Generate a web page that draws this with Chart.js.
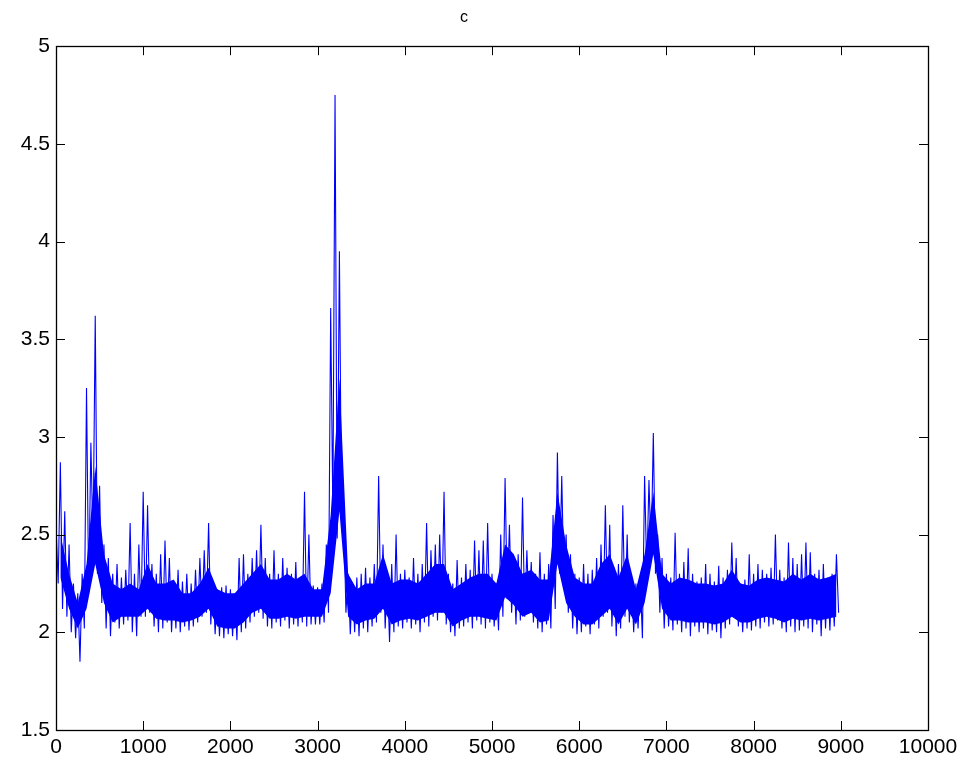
<!DOCTYPE html>
<html>
<head>
<meta charset="utf-8">
<script src="https://cdn.jsdelivr.net/npm/chart.js@4.4.1/dist/chart.umd.min.js"></script>
<style>
  html, body { margin: 0; padding: 0; background: #ffffff; }
  #c { display: block; }
</style>
</head>
<body>
<canvas id="c" width="967" height="764"></canvas>
<script>
// ---- data ----
const chartTitle = "c";
const binWidth = 50;     // samples per spike bin
// upper extreme of the signal in each 50-sample bin
const binHigh = [
  2.55, 2.87, 2.62, 2.45, 2.25, 2.20, 2.30, 3.25, 2.97, 3.62,
  2.75, 2.45, 2.38, 2.30, 2.35, 2.28, 2.32, 2.56, 2.30, 2.45,
  2.72, 2.65, 2.35, 2.30, 2.40, 2.47, 2.38, 2.25, 2.32, 2.26,
  2.30, 2.25, 2.32, 2.38, 2.42, 2.56, 2.25, 2.22, 2.23, 2.24,
  2.22, 2.20, 2.38, 2.40, 2.30, 2.38, 2.42, 2.55, 2.38, 2.30,
  2.42, 2.30, 2.38, 2.33, 2.30, 2.36, 2.28, 2.72, 2.50, 2.24,
  2.23, 2.25, 2.45, 3.66, 4.75, 3.95, 2.60, 2.30, 2.25, 2.28,
  2.30, 2.33, 2.28, 2.35, 2.80, 2.45, 2.30, 2.35, 2.50, 2.30,
  2.32, 2.28, 2.38, 2.30, 2.35, 2.56, 2.42, 2.45, 2.50, 2.72,
  2.30, 2.25, 2.37, 2.28, 2.35, 2.32, 2.47, 2.42, 2.47, 2.56,
  2.30, 2.25, 2.50, 2.79, 2.55, 2.35, 2.40, 2.69, 2.42, 2.36,
  2.30, 2.41, 2.30, 2.35, 2.60, 2.92, 2.80, 2.50, 2.40, 2.30,
  2.28, 2.35, 2.30, 2.32, 2.38, 2.45, 2.65, 2.55, 2.33, 2.35,
  2.65, 2.50, 2.27, 2.25, 2.28, 2.80, 2.78, 3.02, 2.50, 2.38,
  2.30, 2.28, 2.51, 2.30, 2.36, 2.43, 2.30, 2.26, 2.28, 2.35,
  2.30, 2.26, 2.34, 2.28, 2.32, 2.46, 2.38, 2.25, 2.27, 2.40,
  2.30, 2.35, 2.32, 2.30, 2.33, 2.50, 2.32, 2.28, 2.46, 2.38,
  2.35, 2.40, 2.46, 2.41, 2.30, 2.32, 2.35, 2.28, 2.30, 2.40
];
// lower extreme of the signal in each 50-sample bin
const binLow = [
  2.25, 2.12, 2.08, 2.00, 1.97, 1.85, 2.02, 2.20, 2.45, 2.30,
  2.15, 2.02, 1.98, 2.05, 2.02, 2.04, 2.06, 2.00, 1.98, 2.08,
  2.08, 2.10, 2.03, 2.00, 2.02, 2.05, 2.00, 2.02, 2.00, 2.03,
  2.01, 2.03, 2.05, 2.08, 2.10, 2.04, 1.99, 1.98, 1.97, 1.99,
  1.98, 1.96, 2.00, 2.02, 2.05, 2.08, 2.10, 2.07, 2.03, 2.02,
  2.05, 2.03, 2.06, 2.02, 2.04, 2.03, 2.05, 2.03, 2.04, 2.04,
  2.04, 2.05, 2.10, 2.60, 2.48, 2.55, 2.10, 1.99, 2.00, 1.98,
  2.02, 2.00, 2.03, 2.05, 2.10, 2.02, 1.95, 2.00, 2.03, 2.02,
  2.05, 2.02, 2.04, 2.00, 2.05, 2.03, 2.08, 2.06, 2.10, 2.04,
  2.00, 1.98, 2.02, 2.03, 2.05, 2.02, 2.06, 2.04, 2.02, 2.05,
  2.03, 2.01, 2.08, 2.17, 2.10, 2.04, 2.06, 2.08, 2.10, 2.05,
  2.02, 2.00, 2.04, 2.02, 2.12, 2.30, 2.25, 2.10, 2.02, 1.99,
  2.00, 2.03, 1.99, 2.04, 2.02, 2.08, 2.10, 2.03, 1.98, 2.02,
  2.08, 2.05, 2.00, 2.02, 1.97, 2.30, 2.40, 2.30, 2.10, 2.02,
  2.03, 2.01, 2.04, 2.00, 2.02, 1.98, 2.03, 2.00, 2.02, 1.99,
  2.01, 2.00, 1.97, 2.02, 2.04, 2.08, 2.03, 2.00, 2.02, 2.01,
  2.03, 2.02, 2.05, 2.03, 2.04, 2.06, 2.02, 2.00, 2.03, 2.00,
  2.01, 2.03, 2.02, 2.00, 2.04, 1.98, 2.02, 2.01, 2.03, 2.10
];
const blockWidth = 100;  // samples per dense-band block
// upper edge of the dense (solid) band, per 100-sample block
const bandTop = [
  2.50, 2.30, 2.15, 2.35, 2.85, 2.40, 2.25, 2.22, 2.25, 2.22,
  2.35, 2.25, 2.25, 2.27, 2.20, 2.20, 2.25, 2.33, 2.22, 2.20,
  2.20, 2.25, 2.30, 2.35, 2.27, 2.27, 2.30, 2.27, 2.30, 2.22,
  2.22, 2.60, 3.30, 2.30, 2.22, 2.25, 2.25, 2.40, 2.25, 2.27,
  2.27, 2.25, 2.30, 2.35, 2.35, 2.22, 2.25, 2.28, 2.30, 2.30,
  2.25, 2.45, 2.40, 2.30, 2.32, 2.27, 2.27, 2.72, 2.45, 2.28,
  2.25, 2.25, 2.35, 2.40, 2.28, 2.40, 2.22, 2.40, 2.72, 2.30,
  2.25, 2.28, 2.27, 2.25, 2.25, 2.24, 2.25, 2.32, 2.25, 2.24,
  2.27, 2.28, 2.27, 2.26, 2.30, 2.27, 2.30, 2.27, 2.28, 2.30
];
// lower edge of the dense (solid) band, per 100-sample block
const bandBottom = [
  2.28, 2.12, 2.02, 2.12, 2.35, 2.15, 2.05, 2.08, 2.08, 2.08,
  2.12, 2.07, 2.06, 2.06, 2.05, 2.06, 2.08, 2.12, 2.03, 2.02,
  2.02, 2.05, 2.10, 2.12, 2.07, 2.07, 2.08, 2.07, 2.08, 2.08,
  2.08, 2.20, 2.62, 2.08, 2.04, 2.06, 2.07, 2.12, 2.04, 2.06,
  2.07, 2.06, 2.08, 2.10, 2.10, 2.03, 2.06, 2.08, 2.08, 2.07,
  2.06, 2.18, 2.14, 2.08, 2.10, 2.05, 2.06, 2.35, 2.15, 2.08,
  2.04, 2.04, 2.08, 2.12, 2.04, 2.12, 2.04, 2.15, 2.40, 2.12,
  2.06, 2.06, 2.05, 2.05, 2.05, 2.04, 2.05, 2.08, 2.05, 2.05,
  2.07, 2.08, 2.07, 2.05, 2.07, 2.06, 2.07, 2.06, 2.07, 2.08
];
const xTickMin = 0, xTickMax = 10000, xTickStep = 1000;
const yTickMin = 1.5, yTickMax = 5, yTickStep = 0.5;

// ---- build series from the arrays ----
const spikePoints = [];
for (let i = 0; i < binHigh.length; i++) {
  const x0 = i * binWidth;
  spikePoints.push({ x: x0, y: binHigh[i] });
  spikePoints.push({ x: x0 + binWidth / 2, y: binLow[i] });
}
const topPoints = bandTop.map((v, k) => ({ x: k * blockWidth + blockWidth / 2, y: v }));
const bottomPoints = bandBottom.map((v, k) => ({ x: k * blockWidth + blockWidth / 2, y: v }));

const BLUE = '#0000ff';
const FONT = "'Liberation Sans', Arial, Helvetica, sans-serif";

// MATLAB-style box with inward tick marks on all four sides
const boxTicks = {
  id: 'boxTicks',
  afterDraw(chart) {
    const { ctx, chartArea: a, scales } = chart;
    const L = 9;
    ctx.save();
    ctx.strokeStyle = '#000';
    ctx.lineWidth = 1;
    ctx.beginPath();
    scales.x.ticks.forEach(t => {
      const px = Math.round(scales.x.getPixelForValue(t.value)) + 0.5;
      ctx.moveTo(px, a.bottom); ctx.lineTo(px, a.bottom - L);
      ctx.moveTo(px, a.top); ctx.lineTo(px, a.top + L);
    });
    scales.y.ticks.forEach(t => {
      const py = Math.round(scales.y.getPixelForValue(t.value)) + 0.5;
      ctx.moveTo(a.left, py); ctx.lineTo(a.left + L, py);
      ctx.moveTo(a.right, py); ctx.lineTo(a.right - L, py);
    });
    ctx.stroke();
    ctx.lineWidth = 1.3;
    ctx.strokeRect(Math.round(a.left) + 0.5, Math.round(a.top) + 0.5,
                   Math.round(a.right - a.left), Math.round(a.bottom - a.top));
    ctx.restore();
  }
};

new Chart(document.getElementById('c'), {
  type: 'line',
  data: {
    datasets: [
      { // spikes / extremes on top
        data: spikePoints,
        borderColor: BLUE,
        borderWidth: 1.1,
        pointRadius: 0,
        tension: 0,
        fill: false
      },
      { // dense band lower edge
        data: bottomPoints,
        borderColor: BLUE,
        borderWidth: 0,
        pointRadius: 0,
        tension: 0,
        fill: false
      },
      { // dense band upper edge, filled down to the lower edge
        data: topPoints,
        borderColor: BLUE,
        borderWidth: 0,
        backgroundColor: BLUE,
        pointRadius: 0,
        tension: 0,
        fill: '-1'
      }
    ]
  },
  options: {
    responsive: false,
    animation: false,
    events: [],
    layout: { padding: { left: 0, right: 39, top: 0, bottom: 0 } },
    plugins: {
      legend: { display: false },
      tooltip: { enabled: false },
      title: {
        display: true,
        text: chartTitle,
        color: '#000',
        font: { family: FONT, size: 16, weight: 'normal', lineHeight: 1.2 },
        padding: { top: 8, bottom: 19 }
      }
    },
    scales: {
      x: {
        type: 'linear',
        min: xTickMin, max: xTickMax,
        ticks: {
          stepSize: xTickStep,
          color: '#000',
          font: { family: FONT, size: 21 },
          padding: 5,
          maxRotation: 0,
          autoSkip: false,
          callback: v => String(v)
        },
        grid: { display: false, drawTicks: false },
        border: { display: false },
        afterFit(s) { s.height = 34; }
      },
      y: {
        type: 'linear',
        min: yTickMin, max: yTickMax,
        ticks: {
          stepSize: yTickStep,
          color: '#000',
          font: { family: FONT, size: 21 },
          padding: 6,
          callback: v => String(v)
        },
        grid: { display: false, drawTicks: false },
        border: { display: false },
        afterFit(s) { s.width = 56; }
      }
    }
  },
  plugins: [boxTicks]
});
</script>
</body>
</html>
